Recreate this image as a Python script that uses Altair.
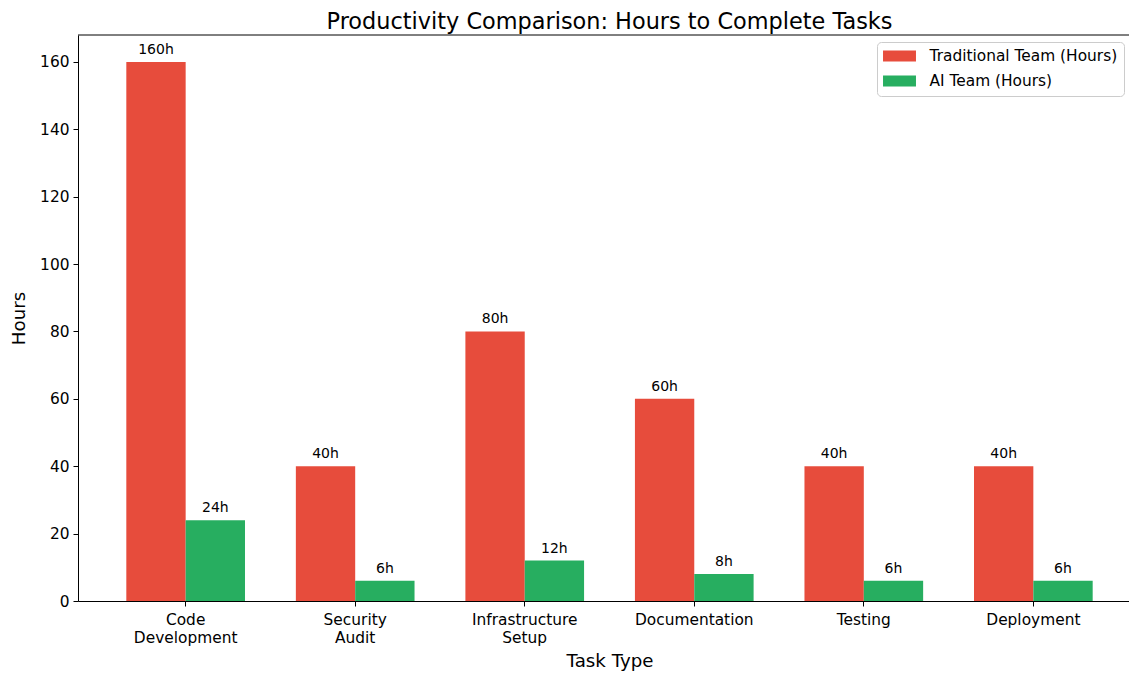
import altair as alt
import pandas as pd

tasks = ["Code Development", "Security Audit", "Infrastructure Setup",
         "Documentation", "Testing", "Deployment"]
teams = ["Traditional Team (Hours)", "AI Team (Hours)"]
traditional_hours = [160, 40, 80, 60, 40, 40]
ai_hours = [24, 6, 12, 8, 6, 6]
team_colors = ["#e74c3c", "#27ae60"]
y_ticks = [0, 20, 40, 60, 80, 100, 120, 140, 160]

rows = []
for t, a, b in zip(tasks, traditional_hours, ai_hours):
    rows.append({"task": t, "team": teams[0], "hours": a})
    rows.append({"task": t, "team": teams[1], "hours": b})
df = pd.DataFrame(rows)

FONT = "DejaVu Sans"

base = alt.Chart(df).encode(
    x=alt.X(
        "task:N", sort=tasks,
        scale=alt.Scale(paddingInner=0.3, paddingOuter=0.285, range=[0, 1063]),
        axis=alt.Axis(
            title="Task Type", labelAngle=0,
            labelExpr="split(datum.label, ' ')",
            labelLineHeight=18, labelPadding=6, titlePadding=7,
        ),
    ),
    xOffset=alt.XOffset("team:N", sort=teams),
)

bars = base.mark_bar().encode(
    y=alt.Y(
        "hours:Q",
        scale=alt.Scale(domain=[0, 168], nice=False),
        axis=alt.Axis(values=y_ticks, title="Hours", labelPadding=4, titlePadding=11),
    ),
    color=alt.Color(
        "team:N", sort=teams,
        scale=alt.Scale(domain=teams, range=team_colors),
        legend=alt.Legend(
            title=None, orient="none", legendX=799, legendY=7,
            symbolType="M-2.06,-0.69H2.06V0.69H-2.06Z", symbolSize=256,
            symbolStrokeWidth=0, symbolOpacity=1, symbolOffset=8.5,
            labelFont=FONT, labelFontSize=15.4, labelColor="black",
            labelOffset=22, labelLimit=400, padding=6, rowPadding=8,
            strokeColor="#cccccc", fillColor="white", cornerRadius=4,
        ),
    ),
)

labels = base.transform_calculate(lab="datum.hours + 'h'").mark_text(
    baseline="alphabetic", dy=-8, fontSize=14, font=FONT, color="black"
).encode(
    y=alt.Y("hours:Q"),
    text=alt.Text("lab:N"),
)

top_spine = alt.Chart(pd.DataFrame({"v": [0]})).mark_rule(
    color="black", strokeWidth=1
).encode(y=alt.value(0))

chart = alt.layer(bars, labels, top_spine).properties(
    width=1051, height=566,
    title=alt.TitleParams(
        "Productivity Comparison: Hours to Complete Tasks",
        fontSize=22.4, font=FONT, fontWeight="normal", color="black",
        offset=1, anchor="middle", dx=6,
    ),
    padding={"left": 70, "top": 27, "right": 0, "bottom": 72},
    autosize=alt.AutoSizeParams(type="none"),
).configure_view(stroke=None).configure_axis(
    grid=False, domainColor="black", domainWidth=1, tickColor="black",
    tickWidth=1, tickSize=5, labelColor="black", titleColor="black",
    labelFont=FONT, titleFont=FONT, labelFontSize=15.4, titleFontSize=18.2,
    titleFontWeight="normal",
)

chart.save("out.html", embed_options={"renderer": "svg", "actions": False})
